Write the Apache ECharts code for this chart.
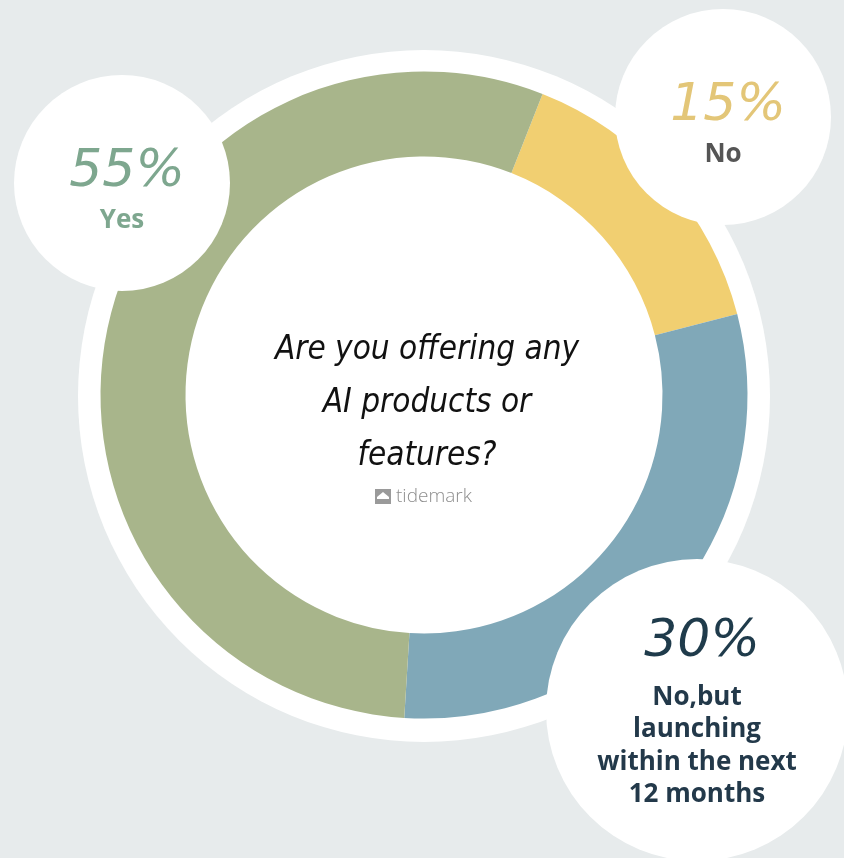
<!DOCTYPE html>
<html>
<head>
<meta charset="utf-8">
<title>Are you offering any AI products or features?</title>
<script src="https://cdn.jsdelivr.net/npm/echarts@6/dist/echarts.min.js"></script>
<style>
  html, body { margin: 0; padding: 0; background: #e7ebec; }
  #chart { width: 844px; height: 858px; }
</style>
</head>
<body>
<div id="chart"></div>
<script>
// Survey answers, in clockwise order starting from the top-right of the ring
const categories = ['No', 'No,but\nlaunching\nwithin the next\n12 months', 'Yes'];
const shares = [15, 30, 55];
const question = ['Are you offering any', 'AI products or', 'features?'];

// Visual styling per answer
const sliceColors = ['#f1cf71', '#80a8b8', '#a8b58b'];
const pctColors = ['#e3c678', '#1f3b4b', '#7ea78f'];
const nameColors = ['#555555', '#23394a', '#7ea78f'];
// Callout bubble placement (centre x, centre y, radius) for each answer
const bubbles = [[723, 117, 108], [697, 710, 151], [122, 183, 108]];

const CX = 424, CY = 395;
const hand = "'DejaVu Sans', sans-serif";

const chart = echarts.init(document.getElementById('chart'), null, { renderer: 'canvas' });

const graphics = [
  // white halo behind the ring
  { type: 'circle', z: -10, silent: true,
    shape: { cx: CX, cy: CY + 1, r: 346 }, style: { fill: '#ffffff' } }
];

categories.forEach((name, i) => {
  const [bx, by, br] = bubbles[i];
  const lines = name.split('\n').length;
  const pctY = lines > 1 ? by - 68 : by - 11;
  graphics.push({
    type: 'circle', z: 100, silent: true,
    shape: { cx: bx, cy: by, r: br }, style: { fill: '#ffffff' }
  });
  graphics.push({
    type: 'text', z: 101, silent: true,
    x: bx + 5, y: pctY,
    style: {
      text: shares[i] + '%', fill: pctColors[i],
      font: 'italic 200 52px ' + hand,
      align: 'center', verticalAlign: 'middle'
    }
  });
  graphics.push({
    type: 'text', z: 101, silent: true,
    x: bx, y: lines > 1 ? by - 29 : by + 21,
    style: {
      text: name, fill: nameColors[i],
      font: 'bold 26px "Open Sans", sans-serif',
      lineHeight: 32.5,
      align: 'center', verticalAlign: 'top'
    }
  });
});

// question in the middle of the ring
question.forEach((line, k) => {
  graphics.push({
    type: 'text', z: 50, silent: true,
    x: CX + 3, y: 350 + k * 53,
    style: {
      text: line, fill: '#111111',
      font: 'italic 300 33px "DejaVu Sans Condensed", "Liberation Sans Narrow", sans-serif',
      align: 'center', verticalAlign: 'middle'
    }
  });
});

// tidemark brand mark
graphics.push({
  type: 'group', z: 50, silent: true, x: 375, y: 489,
  children: [
    { type: 'rect', shape: { x: 0, y: 0, width: 16, height: 15 }, style: { fill: '#9a9a9a' } },
    { type: 'polygon', shape: { points: [[2, 8], [8, 3], [14, 8], [14, 10], [2, 10]] }, style: { fill: '#ffffff' } },
    { type: 'text', x: 21, y: 8,
      style: { text: 'tidemark', fill: '#8e8e8e', font: '300 19px "Open Sans", sans-serif', verticalAlign: 'middle' } }
  ]
});

chart.setOption({
  backgroundColor: '#e7ebec',
  animation: false,
  series: [{
    type: 'pie',
    center: [CX, CY],
    radius: [238.5, 323.5],
    startAngle: 68.5,
    clockwise: true,
    silent: true,
    label: { show: false },
    labelLine: { show: false },
    itemStyle: { borderWidth: 0 },
    data: categories.map((c, i) => ({ name: c, value: shares[i], itemStyle: { color: sliceColors[i] } }))
  }],
  graphic: graphics
});
</script>
</body>
</html>
